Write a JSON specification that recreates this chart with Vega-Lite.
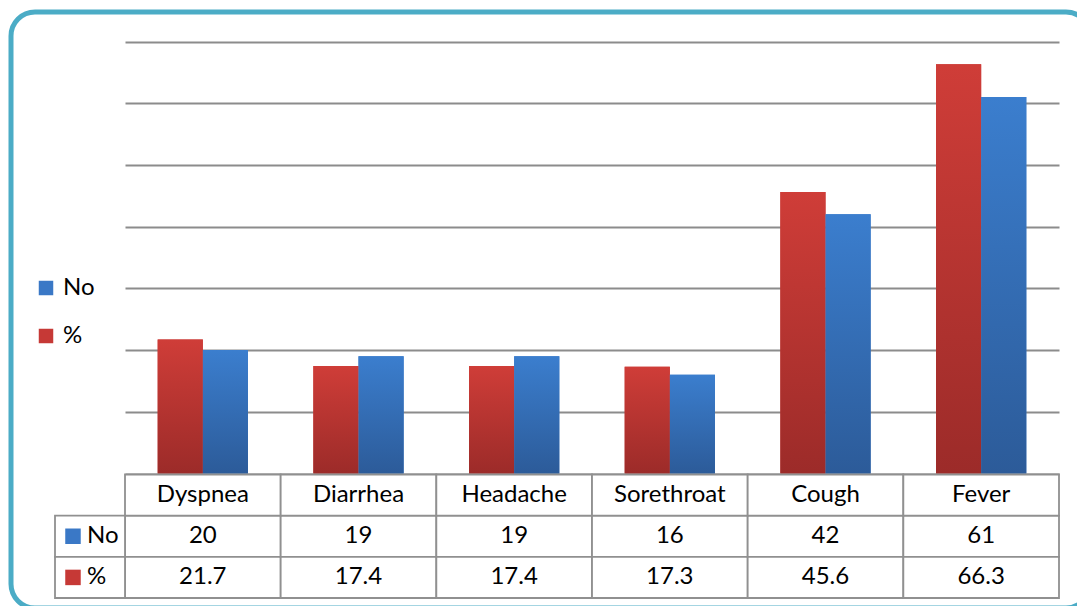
{
  "$schema": "https://vega.github.io/schema/vega-lite/v6.json",
  "width": 1079,
  "height": 596,
  "autosize": {"type": "none"},
  "padding": {"left": 11, "top": 12, "right": -13, "bottom": -2},
  "background": "white",
  "config": {
    "view": {"stroke": "#4BACC6", "strokeWidth": 5, "cornerRadius": 24, "fill": "white"},
    "font": "Lato",
    "text": {"font": "Lato", "fontSize": 24, "color": "black"}
  },
  "data": {
    "values": [
      {"symptom": "Dyspnea", "series": "No", "value": 20},
      {"symptom": "Dyspnea", "series": "%", "value": 21.7},
      {"symptom": "Diarrhea", "series": "No", "value": 19},
      {"symptom": "Diarrhea", "series": "%", "value": 17.4},
      {"symptom": "Headache", "series": "No", "value": 19},
      {"symptom": "Headache", "series": "%", "value": 17.4},
      {"symptom": "Sorethroat", "series": "No", "value": 16},
      {"symptom": "Sorethroat", "series": "%", "value": 17.3},
      {"symptom": "Cough", "series": "No", "value": 42},
      {"symptom": "Cough", "series": "%", "value": 45.6},
      {"symptom": "Fever", "series": "No", "value": 61},
      {"symptom": "Fever", "series": "%", "value": 66.3}
    ]
  },
  "layer": [
    {
      "layer": [
        {
          "mark": {"type": "bar"},
          "encoding": {
            "x": {"field": "symptom", "type": "nominal", "scale": {"domain": ["Dyspnea", "Diarrhea", "Headache", "Sorethroat", "Cough", "Fever"], "range": [114, 1048], "paddingInner": 0.42, "paddingOuter": 0.21}, "axis": null},
            "xOffset": {"field": "series", "type": "nominal", "scale": {"domain": ["%", "No"], "paddingInner": 0, "paddingOuter": 0}},
            "y": {"field": "value", "type": "quantitative", "scale": {"domain": [0, 70], "range": [461.5, 29.5], "nice": false, "zero": true},
              "axis": {"values": [0, 10, 20, 30, 40, 50, 60, 70], "labels": false, "ticks": false, "domain": false, "grid": true, "gridColor": "#8c8c8c", "gridWidth": 2, "title": null}},
            "color": {"field": "series", "type": "nominal", "scale": {"domain": ["No", "%"], "range": ["#3a78c6", "#c63936"]},
              "legend": {"orient": "none", "legendX": 23, "legendY": 264, "title": null, "symbolType": "square", "symbolSize": 210, "symbolStrokeWidth": 0, "labelFontSize": 24, "labelFont": "Lato", "labelColor": "black", "rowPadding": 24, "labelOffset": 5}}
          }
        },
        {
          "transform": [{"filter": "datum.series === '%'"}],
          "mark": {"type": "bar", "fill": {"gradient": "linear", "x1": 0, "y1": 0, "x2": 0, "y2": 1, "stops": [{"offset": 0, "color": "#cf3d38"}, {"offset": 1, "color": "#9c2b29"}]}},
          "encoding": {
            "x": {"field": "symptom", "type": "nominal"},
            "xOffset": {"field": "series", "type": "nominal"},
            "y": {"field": "value", "type": "quantitative"}
          }
        },
        {
          "transform": [{"filter": "datum.series === 'No'"}],
          "mark": {"type": "bar", "fill": {"gradient": "linear", "x1": 0, "y1": 0, "x2": 0, "y2": 1, "stops": [{"offset": 0, "color": "#3b7ece"}, {"offset": 1, "color": "#2c5b99"}]}},
          "encoding": {
            "x": {"field": "symptom", "type": "nominal"},
            "xOffset": {"field": "series", "type": "nominal"},
            "y": {"field": "value", "type": "quantitative"}
          }
        }
      ]
    },
    {
      "layer": [
        {
          "mark": {"type": "rect", "fill": "white", "stroke": "#909090", "strokeWidth": 1.8},
          "encoding": {
            "x": {"field": "symptom", "type": "nominal", "scale": {"domain": ["Dyspnea", "Diarrhea", "Headache", "Sorethroat", "Cough", "Fever"], "range": [114, 1048], "paddingInner": 0, "paddingOuter": 0}, "axis": null},
            "y": {"field": "series", "type": "nominal", "scale": {"domain": ["header", "No", "%"], "range": [462.5, 586], "paddingInner": 0, "paddingOuter": 0}, "axis": null}
          }
        },
        {
          "transform": [{"filter": "datum.series === 'No'"}],
          "mark": {"type": "rect", "fill": "white", "stroke": "#909090", "strokeWidth": 1.8},
          "encoding": {
            "x": {"field": "symptom", "type": "nominal"},
            "y": {"datum": "header", "type": "nominal"}
          }
        },
        {
          "mark": {"type": "text", "baseline": "middle", "align": "center"},
          "encoding": {
            "x": {"field": "symptom", "type": "nominal"},
            "y": {"field": "series", "type": "nominal"},
            "text": {"field": "value", "type": "quantitative", "format": ""}
          }
        },
        {
          "transform": [{"filter": "datum.series === 'No'"}],
          "mark": {"type": "text", "baseline": "middle", "align": "center"},
          "encoding": {
            "x": {"field": "symptom", "type": "nominal"},
            "y": {"datum": "header", "type": "nominal"},
            "text": {"field": "symptom", "type": "nominal"}
          }
        }
      ]
    },
    {
      "transform": [{"filter": "datum.symptom === 'Dyspnea'"}],
      "layer": [
        {
          "mark": {"type": "rect", "fill": "white", "stroke": "#909090", "strokeWidth": 1.8},
          "encoding": {
            "x": {"datum": "lab", "type": "nominal", "scale": {"domain": ["lab"], "range": [44, 114], "paddingInner": 0, "paddingOuter": 0}, "axis": null},
            "y": {"field": "series", "type": "nominal", "scale": {"domain": ["header", "No", "%"], "range": [462.5, 586], "paddingInner": 0, "paddingOuter": 0}, "axis": null}
          }
        },
        {
          "mark": {"type": "square", "size": 240, "filled": true, "opacity": 1},
          "encoding": {
            "x": {"datum": "lab", "type": "nominal", "bandPosition": 0.257},
            "y": {"field": "series", "type": "nominal"},
            "color": {"field": "series", "type": "nominal", "scale": {"domain": ["No", "%"], "range": ["#3a78c6", "#c63936"]}, "legend": null}
          }
        },
        {
          "mark": {"type": "text", "align": "left", "baseline": "middle"},
          "encoding": {
            "x": {"datum": "lab", "type": "nominal", "bandPosition": 0.457},
            "y": {"field": "series", "type": "nominal"},
            "text": {"field": "series", "type": "nominal"}
          }
        }
      ]
    }
  ],
  "resolve": {
    "scale": {"x": "independent", "y": "independent", "color": "independent", "xOffset": "independent"},
    "axis": {"x": "independent", "y": "independent"},
    "legend": {"color": "independent"}
  }
}
